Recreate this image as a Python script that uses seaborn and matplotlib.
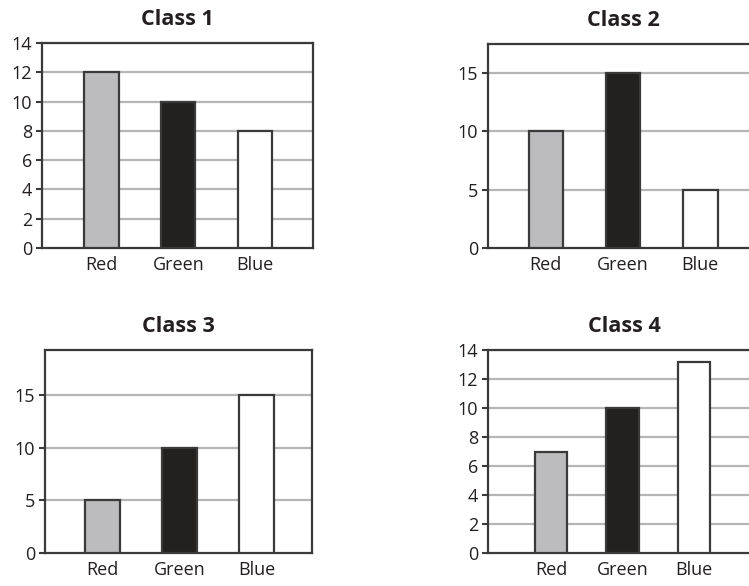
import matplotlib
matplotlib.use("Agg")
import matplotlib.pyplot as plt
import seaborn as sns

sns.set_style("white")
plt.rcParams['font.family'] = ['Open Sans', 'DejaVu Sans']

# data
colours = ["Red", "Green", "Blue"]
class_titles = ["Class 1", "Class 2", "Class 3", "Class 4"]
class1 = [12, 10, 8]
class2 = [10, 15, 5]
class3 = [5, 10, 15]
class4 = [7, 10, 13.2]
y_ticks_1 = [0, 2, 4, 6, 8, 10, 12, 14]
y_ticks_2 = [0, 5, 10, 15]
y_ticks_3 = [0, 5, 10, 15]
y_ticks_4 = [0, 2, 4, 6, 8, 10, 12, 14]

fills = {"Red": "#bbbcbf", "Green": "#231f20", "Blue": "#ffffff"}
edge = "#3a3a3a"
grid_col = "#b5b5b5"

W, H = 749, 586
fig = plt.figure(figsize=(W / 100, H / 100), dpi=100)


def px_axes(left, top, right, bottom):
    return fig.add_axes([left / W, 1 - bottom / H, (right - left) / W, (bottom - top) / H])


panels = [
    # (title, values, ticks, ylim, axes box in px, xlim)
    (class_titles[0], class1, y_ticks_1, 14, (42, 43, 313, 248), (-0.78, 2.76)),
    (class_titles[1], class2, y_ticks_2, 17.5, (488, 44, 758, 248), (-0.75, 2.75)),
    (class_titles[2], class3, y_ticks_3, 19.3, (45, 350, 312, 553), (-0.75, 2.72)),
    (class_titles[3], class4, y_ticks_4, 14, (488, 350, 760, 553), (-0.88, 2.92)),
]

for title, vals, ticks, top, box, xl in panels:
    ax = px_axes(*box)
    sns.barplot(x=colours, y=vals, hue=colours, palette=fills, width=0.45,
                edgecolor=edge, linewidth=1.6, legend=False, ax=ax, zorder=3)
    ax.set_ylim(0, top)
    ax.set_xlim(*xl)
    ax.set_yticks(ticks)
    for t in ticks[1:]:
        ax.axhline(t, color=grid_col, linewidth=1.6, zorder=1)
    for s in ax.spines.values():
        s.set_color(edge)
        s.set_linewidth(1.6)
        s.set_visible(True)
    ax.tick_params(axis='y', left=True, length=4, width=1.5, color=edge, pad=3,
                   labelsize=13, labelcolor="#231f20")
    ax.tick_params(axis='x', bottom=False, pad=2, labelsize=13, labelcolor="#231f20")
    ax.set_xlabel("")
    ax.set_ylabel("")
    ax.set_title(title, fontsize=15.5, fontweight='bold', color="#231f20", pad=13)

fig.savefig("out.png", dpi=100)
